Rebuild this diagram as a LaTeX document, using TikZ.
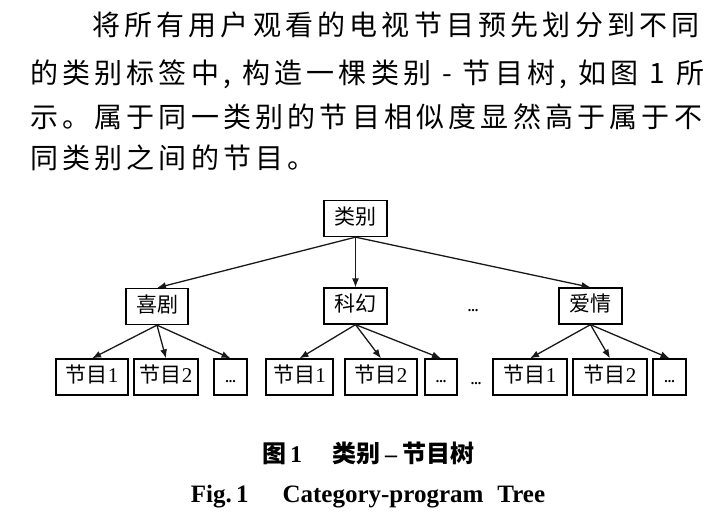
\documentclass[tikz,border=0pt]{standalone}
\usepackage{fontspec}
\setmainfont{Liberation Serif}
\newfontfamily\cjk{Noto Sans CJK SC}
\newfontfamily\cjkbody{Noto Sans CJK SC}[LetterSpace=15]
\usetikzlibrary{arrows.meta}
\begin{document}
\begin{tikzpicture}[x=1pt,y=-1pt,
  box/.style={draw=black, line width=1.3pt, inner sep=0pt, minimum height=36pt,
    text height=15pt, text depth=4pt, font=\fontsize{21}{21}\selectfont},
  arr/.style={-{Latex[length=9pt,width=7pt]}, line width=1.3pt, draw=black!90},
  body/.style={anchor=base west, inner sep=0pt, font=\cjkbody\fontsize{28}{28}\selectfont},
  dotsnode/.style={inner sep=0pt, anchor=base, font=\bfseries\fontsize{14}{14}\selectfont}]
\useasboundingbox (0,0) rectangle (725,530);
% body text
\node[body] (t1) at (92,35) {将所有用户观看的电视节目预先划分到不同};
\node[body] (t2) at (30,83) {\makebox[674pt][s]{的类别标签中, 构造一棵类别 - 节目树, 如图 1 所}};
\node[body] (t3) at (30,127) {示。属于同一类别的节目相似度显然高于属于不};
\node[body] (t4) at (30,168) {同类别之间的节目。};
% tree
\node[box, minimum width=63pt] (cat) at (355.5,218.5) {\cjk 类别};
\node[box, minimum width=62pt] (xj) at (157,306.5) {\cjk 喜剧};
\node[box, minimum width=63pt] (kh) at (355.5,306) {\cjk 科幻};
\node[dotsnode] (md) at (473,311) {...};
\node[box, minimum width=63pt] (aq) at (590.5,306) {\cjk 爱情};
\node[box, minimum width=72pt] (a1) at (92,377) {{\cjk 节目}1};
\node[box, minimum width=64pt] (a2) at (166,377) {{\cjk 节目}2};
\node[box, minimum width=33pt] (a3) at (230.5,377) {\bfseries\fontsize{14}{14}\selectfont ...};
\node[box, minimum width=67pt] (b1) at (299.5,377) {{\cjk 节目}1};
\node[box, minimum width=72pt] (b2) at (381,377) {{\cjk 节目}2};
\node[box, minimum width=32pt] (b3) at (441,377) {\bfseries\fontsize{14}{14}\selectfont ...};
\node[dotsnode] (ld) at (476,384) {...};
\node[box, minimum width=74pt] (c1) at (530,377) {{\cjk 节目}1};
\node[box, minimum width=74pt] (c2) at (610,377) {{\cjk 节目}2};
\node[box, minimum width=33pt] (c3) at (669.5,377) {\bfseries\fontsize{14}{14}\selectfont ...};
\draw[arr] (cat.south) -- (xj.north);
\draw[arr] (cat.south) -- (kh.north);
\draw[arr] (cat.south) -- (aq.north);
\foreach \p/\c in {xj/a1,xj/a2,xj/a3,kh/b1,kh/b2,kh/b3,aq/c1,aq/c2,aq/c3}
  \draw[arr] (\p.south) -- (\c.north);
% caption
\node[anchor=base, inner sep=0pt, font=\bfseries\fontsize{24}{24}\selectfont] (cap1) at (368,462)
  {{\cjk 图}\,1\hspace{30pt}{\cjk 类别}\hspace{5pt}--\hspace{5pt}{\cjk 节目树}};
\node[anchor=base, inner sep=0pt, font=\bfseries\fontsize{25}{25}\selectfont] (cap2) at (368,502)
  {Fig.\,1\hspace{34pt}Category-program\hspace{14pt}Tree};
\end{tikzpicture}
\end{document}
